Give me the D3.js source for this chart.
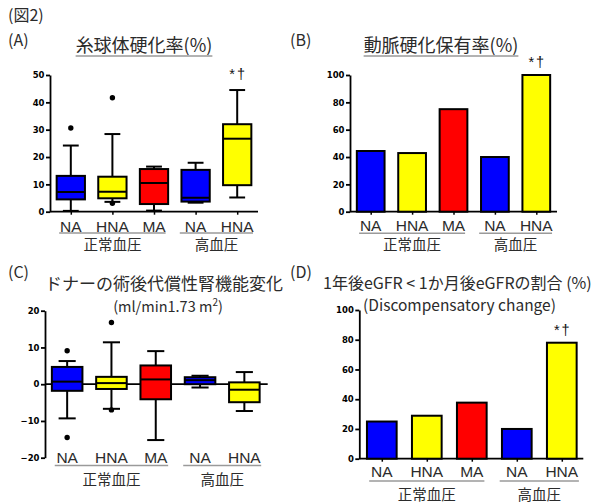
<!DOCTYPE html>
<html>
<head>
<meta charset="utf-8">
<script src="https://cdn.jsdelivr.net/npm/d3@7"></script>
<style>
  body { margin: 0; background: #fff; }
  svg { display: block; }
</style>
</head>
<body>
<svg id="fig" width="592" height="503"></svg>
<script>
// ---- shared categories ----
const categories = ["NA", "HNA", "MA", "NA", "HNA"];
const groupNames = ["正常血圧", "高血圧"];
const groupOf = [0, 0, 0, 1, 1];
const fillColors = ["#0000ff", "#ffff00", "#ff0000", "#0000ff", "#ffff00"];

// ---- (A) glomerulosclerosis rate (%) : box plots ----
const aWhiskerLow  = [0.3, 3.6, 0.4, 3.3, 5.2];
const aQ1          = [4.5, 4.9, 2.8, 3.7, 9.7];
const aMedian      = [7.2, 7.3, 10.5, 5.1, 26.7];
const aQ3          = [13.1, 12.8, 15.6, 15.3, 32.0];
const aWhiskerHigh = [24.2, 28.4, 16.5, 17.9, 44.5];
const aOutliers    = [[30.6], [41.7, 3.1], [], [], []];
const aTicks       = [0, 10, 20, 30, 40, 50];

// ---- (B) arteriosclerosis prevalence (%) : bars ----
const bValues = [44.4, 42.9, 75, 40, 100];
const bTicks  = [0, 20, 40, 60, 80, 100];

// ---- (C) donor compensatory change in renal function : box plots ----
const cWhiskerLow  = [-9.3, -6.7, -15.2, -0.9, -7.3];
const cQ1          = [-1.8, -1.3, -4.1, 0.0, -4.9];
const cMedian      = [0.7, 0.3, 1.3, 1.1, -1.5];
const cQ3          = [4.7, 2.0, 5.1, 1.9, 0.5];
const cWhiskerHigh = [6.3, 11.4, 9.0, 2.3, 3.3];
const cOutliers    = [[9.1, -14.5], [16.8, -7.0], [], [], []];
const cTicks       = [-20, -10, 0, 10, 20];

// ---- (D) discompensatory change (%) : bars ----
const dValues = [25, 28.9, 37.7, 20, 78];
const dTicks  = [0, 20, 40, 60, 80, 100];

const sigMark = "*†";
const sigIndex = 4;

const JP = "'Noto Sans CJK JP', 'Noto Sans', sans-serif";
const LAT = "'Liberation Sans', Arial, sans-serif";
const TICKF = "'DejaVu Sans', sans-serif";
const TEXT = "#2b2b2b";

const svg = d3.select("#fig");
svg.append("rect").attr("width", 592).attr("height", 503).attr("fill", "#fff");

// free-standing labels
function label(x, y, txt, size, opts = {}) {
  return svg.append("text")
    .attr("x", x).attr("y", y)
    .attr("font-family", opts.family || JP)
    .attr("font-size", size)
    .attr("text-anchor", opts.anchor || "start")
    .attr("fill", opts.fill || TEXT)
    .text(txt);
}

function underlinedTitle(cx, y, txt, size) {
  const t = label(cx, y, txt, size, { anchor: "middle" });
  const bb = t.node().getBBox();
  svg.append("line")
    .attr("x1", bb.x).attr("x2", bb.x + bb.width)
    .attr("y1", y + 4).attr("y2", y + 4)
    .attr("stroke", "#666").attr("stroke-width", 1);
}

// y axis + category labels + group brackets common to every panel
function frame(o) {
  const x = d3.scaleBand().domain(d3.range(categories.length)).range([o.x0, o.x1]);
  const y = d3.scaleLinear().domain(o.domain).range([o.yBottom, o.yTop]);
  const cx = i => x(i) + x.bandwidth() / 2;
  const g = svg.append("g");

  const ax = g.append("g")
    .attr("transform", `translate(${o.x0},0)`)
    .call(d3.axisLeft(y).tickValues(o.ticks).tickSize(4).tickSizeOuter(0).tickPadding(1.5));
  ax.selectAll("path,line").attr("stroke", "#000").attr("stroke-width", 1.8);
  ax.selectAll("text")
    .attr("font-family", TICKF).attr("font-weight", "bold")
    .attr("font-size", 8.5).attr("fill", "#000");

  categories.forEach((c, i) => {
    g.append("text")
      .attr("x", cx(i)).attr("y", o.labelY)
      .attr("text-anchor", "middle")
      .attr("font-family", LAT).attr("font-size", 15.5)
      .attr("fill", TEXT)
      .text(c);
  });

  groupNames.forEach((name, gi) => {
    const idx = d3.range(categories.length).filter(i => groupOf[i] === gi);
    const k = gi === 0 ? 0.28 : 0.38;
    const left = cx(idx[0]) - k * x.step();
    const right = cx(idx[idx.length - 1]) + k * x.step();
    g.append("line")
      .attr("x1", left).attr("x2", right)
      .attr("y1", o.bracketY).attr("y2", o.bracketY)
      .attr("stroke", "#9a9a9a").attr("stroke-width", 1.5);
    g.append("text")
      .attr("x", (left + right) / 2).attr("y", o.groupY)
      .attr("text-anchor", "middle")
      .attr("font-family", JP).attr("font-size", 14.5)
      .attr("fill", TEXT)
      .text(name);
  });
  return { g, x, y, cx };
}

function baseline(f, o, withTicks) {
  const ax = f.g.append("g")
    .attr("transform", `translate(0,${f.y(0)})`)
    .call(d3.axisBottom(d3.scalePoint().domain(d3.range(categories.length))
        .range([f.cx(0), f.cx(categories.length - 1)]))
      .tickSize(withTicks ? 3 : 0).tickFormat(""));
  ax.select("path.domain").remove();
  ax.selectAll("line").attr("stroke", "#000").attr("stroke-width", 1.5);
  f.g.insert("line", ":first-child")
    .attr("x1", o.x0).attr("x2", o.axisEnd)
    .attr("y1", f.y(0)).attr("y2", f.y(0))
    .attr("stroke", "#000").attr("stroke-width", 1.8);
}

function boxPanel(o, low, q1, med, q3, high, outliers) {
  const f = frame(o);
  baseline(f, o, o.xTicks);
  const w = f.x.bandwidth() * o.boxFrac;
  const cap = w * 0.56;
  const bg = f.g.append("g").attr("stroke", "#000").attr("stroke-width", 2);
  categories.forEach((c, i) => {
    const cx = f.cx(i);
    bg.append("line").attr("x1", cx).attr("x2", cx)
      .attr("y1", f.y(high[i])).attr("y2", f.y(low[i]));
    bg.append("line").attr("x1", cx - cap / 2).attr("x2", cx + cap / 2)
      .attr("y1", f.y(high[i])).attr("y2", f.y(high[i]));
    bg.append("line").attr("x1", cx - cap / 2).attr("x2", cx + cap / 2)
      .attr("y1", f.y(low[i])).attr("y2", f.y(low[i]));
    bg.append("rect")
      .attr("x", cx - w / 2).attr("width", w)
      .attr("y", f.y(q3[i])).attr("height", f.y(q1[i]) - f.y(q3[i]))
      .attr("fill", fillColors[i]);
    bg.append("line").attr("x1", cx - w / 2).attr("x2", cx + w / 2)
      .attr("y1", f.y(med[i])).attr("y2", f.y(med[i]));
    outliers[i].forEach(v => {
      f.g.append("circle").attr("cx", cx).attr("cy", f.y(v)).attr("r", 2.7).attr("fill", "#000");
    });
  });
  return f;
}

function barPanel(o, values) {
  const f = frame(o);
  const w = f.x.bandwidth() * o.boxFrac;
  categories.forEach((c, i) => {
    f.g.append("rect")
      .attr("x", f.cx(i) - w / 2).attr("width", w)
      .attr("y", f.y(values[i])).attr("height", f.y(0) - f.y(values[i]))
      .attr("fill", fillColors[i]).attr("stroke", "#000").attr("stroke-width", 2);
  });
  baseline(f, o, true);
  return f;
}

function sig(f, v) {
  f.g.append("text")
    .attr("x", f.cx(sigIndex) + 1).attr("y", f.y(v))
    .attr("text-anchor", "middle")
    .attr("font-family", LAT).attr("font-size", 14.5)
    .attr("letter-spacing", 2)
    .attr("fill", "#111")
    .text(sigMark);
}

// ---- headings ----
label(8, 21, "(図2)", 16);
label(8, 46, "(A)", 16);
label(290, 46, "(B)", 16);
label(8, 278, "(C)", 16);
label(290, 278, "(D)", 16);

underlinedTitle(144, 52, "糸球体硬化率(%)", 18);
underlinedTitle(441, 52, "動脈硬化保有率(%)", 18);
label(164, 290, "ドナーの術後代償性腎機能変化", 17, { anchor: "middle" });
const sub = label(168, 312, "(ml/min1.73 m", 14.5, { anchor: "middle" });
sub.append("tspan").attr("dy", -6).attr("font-size", 10).text("2");
sub.append("tspan").attr("dy", 6).text(")");
label(323, 289, "1年後eGFR < 1か月後eGFRの割合 (%)", 16);
label(363, 311, "(Discompensatory change)", 15.5);

// ---- panels ----
const fA = boxPanel({
  x0: 50, x1: 258, axisEnd: 258, yBottom: 211.7, yTop: 75, domain: [0, 50],
  ticks: aTicks, boxFrac: 0.68, labelY: 231.5, bracketY: 233, groupY: 250, xTicks: true
}, aWhiskerLow, aQ1, aMedian, aQ3, aWhiskerHigh, aOutliers);
sig(fA, 48.5);

const fB = barPanel({
  x0: 350, x1: 557, axisEnd: 557, yBottom: 211.7, yTop: 75, domain: [0, 100],
  ticks: bTicks, boxFrac: 0.67, labelY: 230.7, bracketY: 233.3, groupY: 250
}, bValues);
sig(fB, 105.5);

const fC = boxPanel({
  x0: 45, x1: 266.5, axisEnd: 267.7, yBottom: 457.7, yTop: 310.7, domain: [-20, 20],
  ticks: cTicks, boxFrac: 0.69, labelY: 463.3, bracketY: 465.5, groupY: 485, xTicks: false
}, cWhiskerLow, cQ1, cMedian, cQ3, cWhiskerHigh, cOutliers);

const fD = barPanel({
  x0: 359.3, x1: 584.3, axisEnd: 583.3, yBottom: 458.7, yTop: 310, domain: [0, 100],
  ticks: dTicks, boxFrac: 0.66, labelY: 476.7, bracketY: 481, groupY: 499.5
}, dValues);
sig(fD, 83);
</script>
</body>
</html>
